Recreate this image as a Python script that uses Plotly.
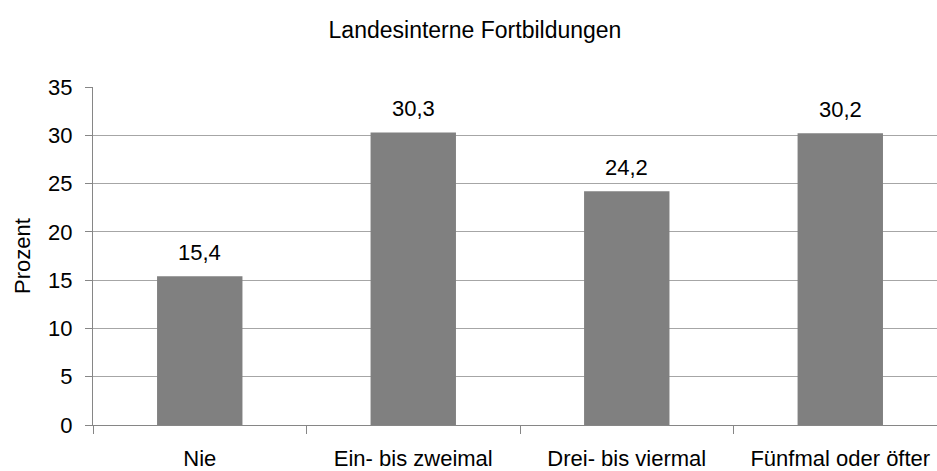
import plotly.graph_objects as go

categories = ["Nie", "Ein- bis zweimal", "Drei- bis viermal", "Fünfmal oder öfter"]
values = [15.4, 30.3, 24.2, 30.2]
labels = ["15,4", "30,3", "24,2", "30,2"]
y_ticks = [0, 5, 10, 15, 20, 25, 30, 35]

FONT = "Liberation Sans, Arial, sans-serif"
FS = 22

W, H = 937, 471

fig = go.Figure(go.Bar(
    x=categories, y=values, width=0.4,
    marker=dict(color="#808080", line=dict(width=0)),
    hoverinfo="skip",
))

for c, v, t in zip(categories, values, labels):
    fig.add_annotation(x=c, y=v, text=t, showarrow=False, yanchor="bottom",
                       yshift=9, font=dict(family=FONT, size=FS, color="#000000"))

fig.update_layout(
    width=W, height=H,
    margin=dict(l=93, r=0, t=87, b=46, autoexpand=False),
    paper_bgcolor="white", plot_bgcolor="white",
    font=dict(family=FONT, size=FS, color="#000000"),
    title=dict(text="Landesinterne Fortbildungen", x=475 / W, xref="container", xanchor="center",
               y=1 - 30 / H, yanchor="middle",
               font=dict(family=FONT, size=23, color="#000000")),
    showlegend=False,
)
fig.update_xaxes(
    range=[-0.5, 3.453], tickson="boundaries", ticks="outside", ticklen=8,
    tickcolor="#868686", showgrid=False, showline=True, linecolor="#868686", linewidth=1,
    tickfont=dict(family=FONT, size=FS), ticklabelstandoff=14, automargin=False,
)
fig.update_yaxes(
    range=[0, 35], tickvals=y_ticks, ticktext=[str(v) for v in y_ticks],
    ticks="outside", ticklen=7, tickcolor="#868686",
    showgrid=True, gridcolor="#a6a6a6", gridwidth=1,
    showline=True, linecolor="#868686", linewidth=1, zeroline=False,
    tickfont=dict(family=FONT, size=FS), ticklabelstandoff=8, automargin=False,
    title=dict(text="Prozent", font=dict(family=FONT, size=FS), standoff=11),
)

fig.write_html("out.html",
               config={"displayModeBar": False, "staticPlot": True},
               post_script="document.body.style.margin='0';document.body.style.overflow='hidden';")
